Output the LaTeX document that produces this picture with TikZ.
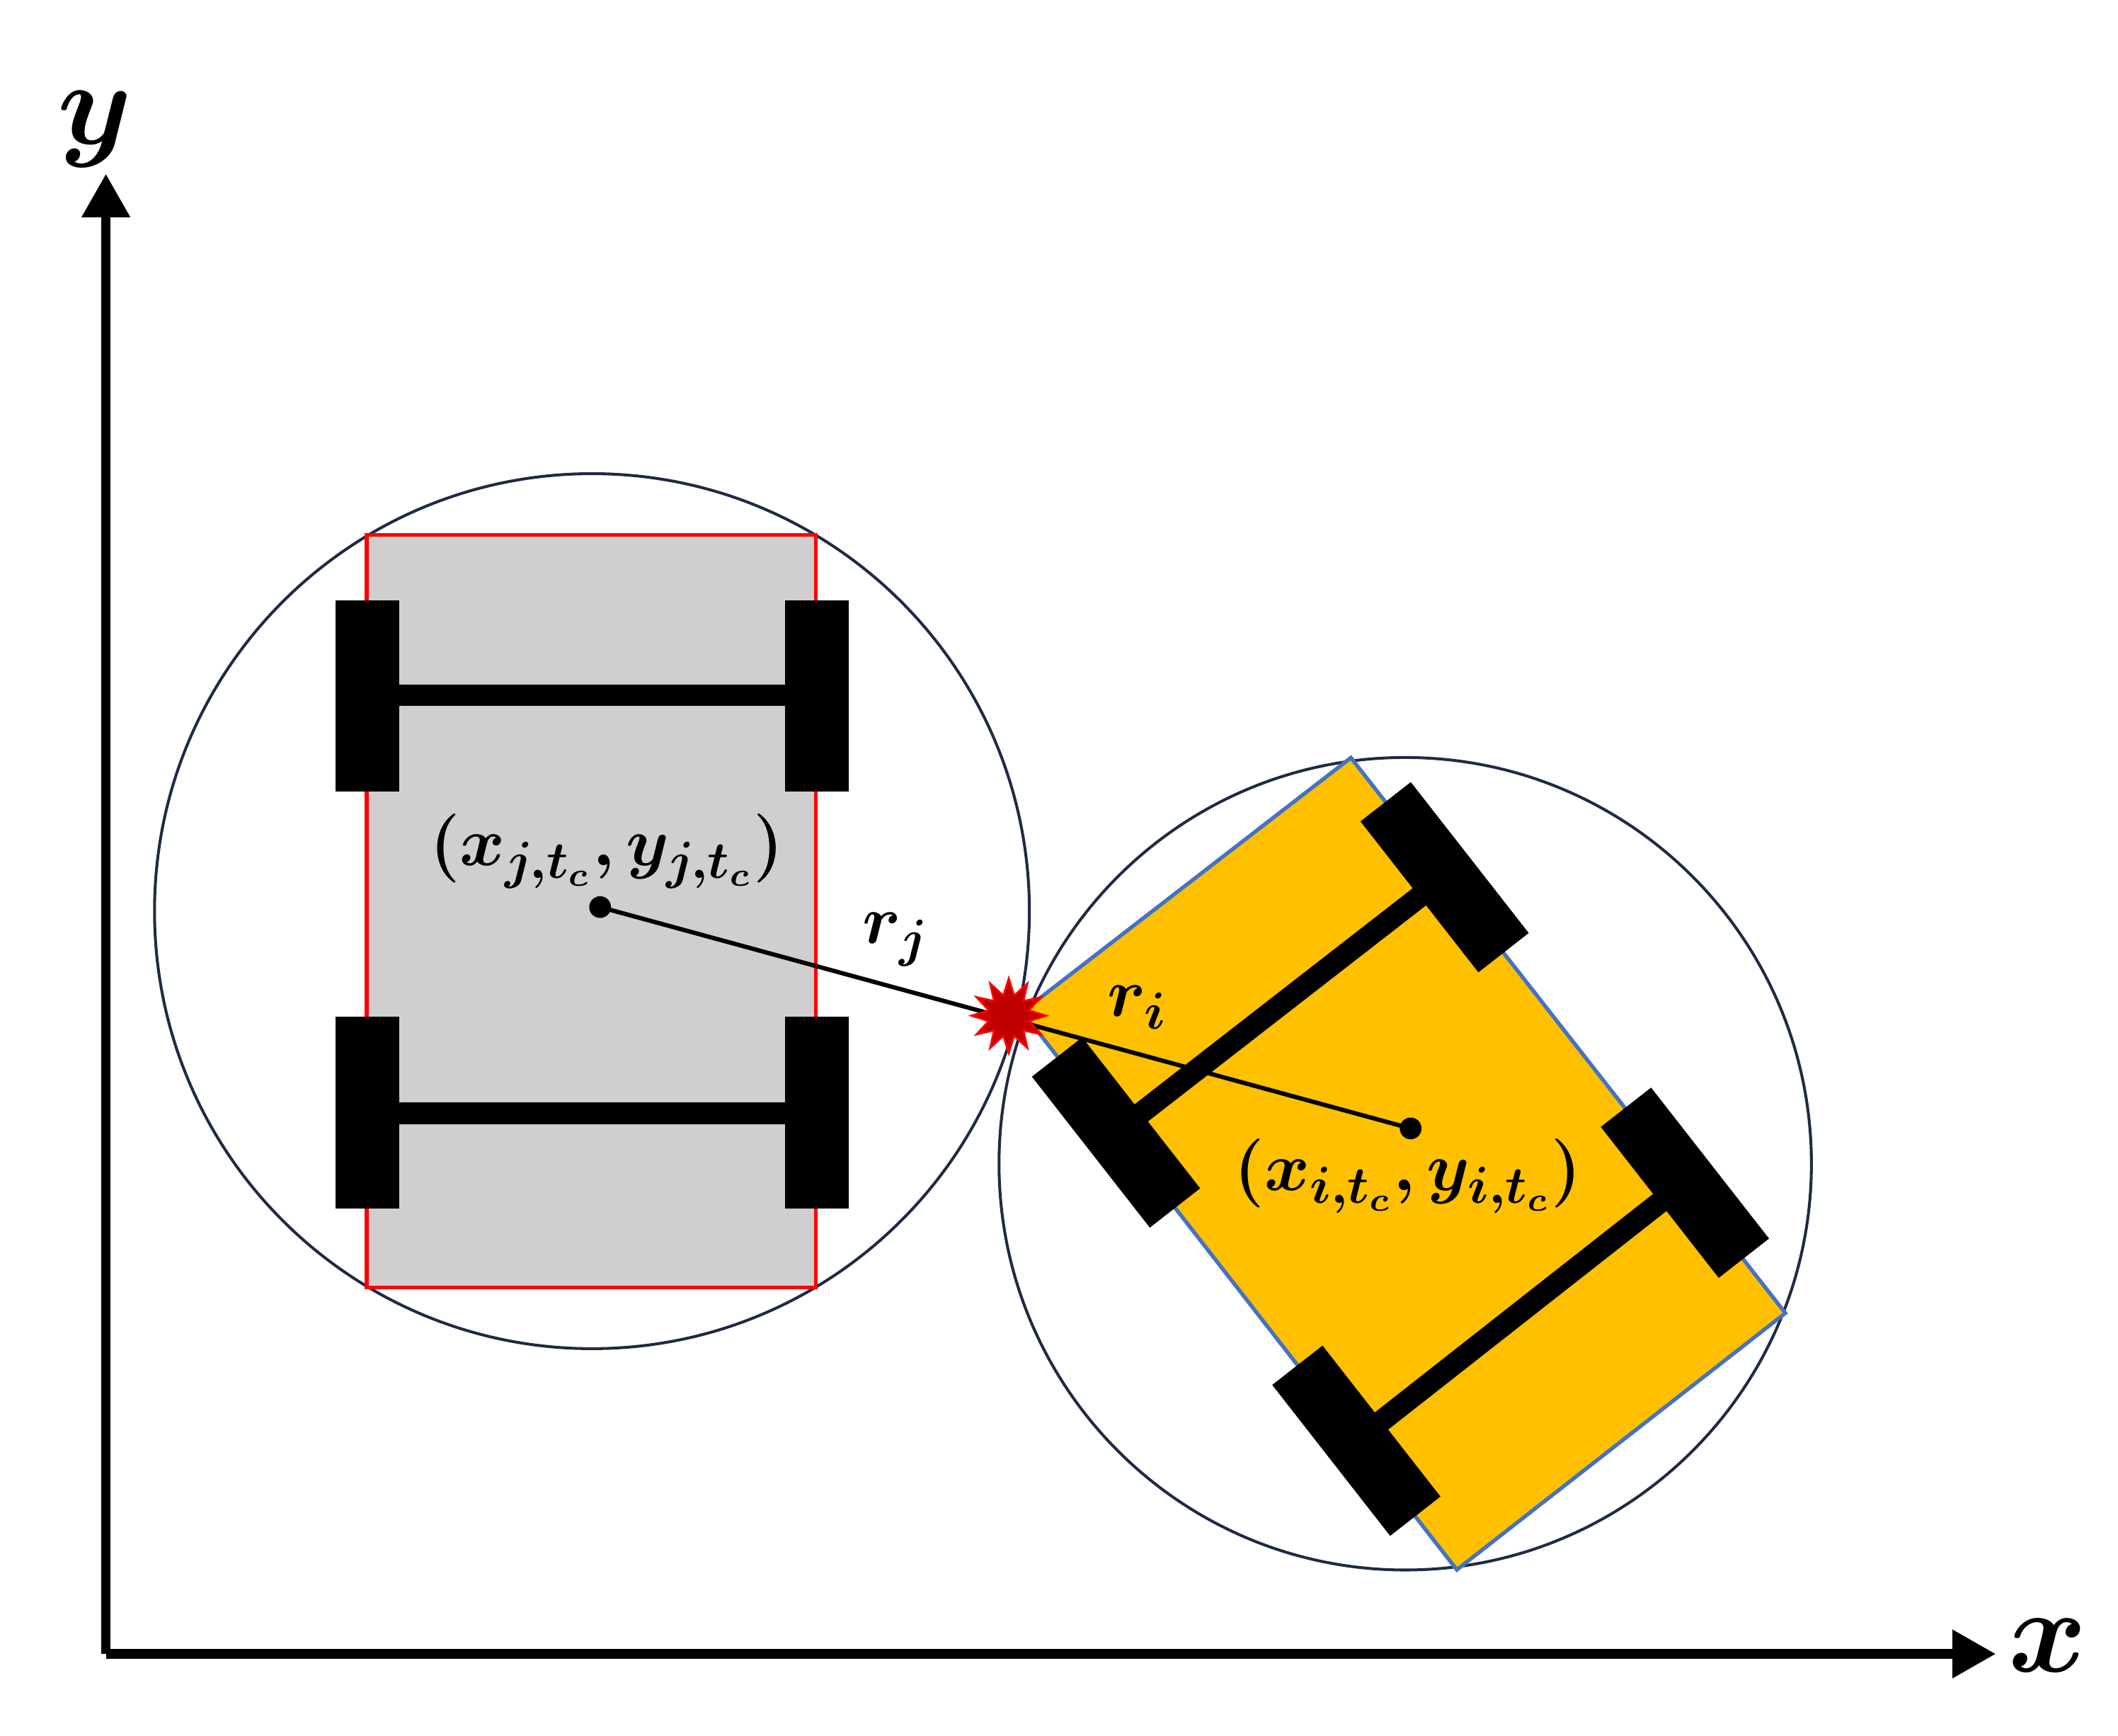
\documentclass[tikz,border=0pt]{standalone}
\usepackage{bm}
\usetikzlibrary{shapes.geometric,arrows.meta}
\begin{document}
\begin{tikzpicture}[x=0.01cm,y=-0.01cm,
  wheel/.style={fill=black,draw=none,minimum width=0.47cm,minimum height=1.41cm,inner sep=0},
  axle/.style={line width=0.16cm},
  circ/.style={draw={rgb,255:red,31;green,42;blue,68},line width=0.6pt},
  lbl/.style={font=\fontsize{15}{18}\selectfont},
  axlbl/.style={font=\fontsize{36}{40}\selectfont}]
\useasboundingbox (0,0) rectangle (1560,1278);
\definecolor{carg}{RGB}{208,206,206}
\definecolor{caro}{RGB}{255,192,0}
\definecolor{carb}{RGB}{68,114,196}
% axes
\coordinate (O) at (78,1218);
\coordinate (Y) at (78,128);
\coordinate (X) at (1470,1218);
\draw[line width=0.07cm,-{Triangle[length=0.32cm,width=0.34cm]}] (O) -- (Y);
\draw[line width=0.07cm,-{Triangle[length=0.32cm,width=0.34cm]}] (O) -- (X);
\node[axlbl] (ylab) at (70,95) {$\bm{y}$};
\node[axlbl] (xlab) at (1508,1212) {$\bm{x}$};
% left car
\node[circ,circle,minimum size=6.44cm,inner sep=0] (cj) at (436,671) {};
\draw[red,fill=carg,line width=0.8pt] (270,394) rectangle (601,948);
\draw[axle] (294,512) -- (578,512);
\draw[axle] (294,820) -- (578,820);
\node[wheel] (w1) at (270.5,512.5) {};
\node[wheel] (w2) at (601.5,512.5) {};
\node[wheel] (w3) at (270.5,819.5) {};
\node[wheel] (w4) at (601.5,819.5) {};
% right car
\node[circ,circle,minimum size=5.98cm,inner sep=0] (ci) at (1035,857) {};
\draw[carb,fill=caro,line width=0.8pt] (995,558) -- (1315,967) -- (1073,1156) -- (753,745) -- cycle;
\draw[axle] (1064,646) -- (822,834);
\draw[axle] (1241,871) -- (999,1061);
\node[wheel,rotate=38] (w5) at (1064,646) {};
\node[wheel,rotate=38] (w6) at (1241,871) {};
\node[wheel,rotate=38] (w7) at (822,834) {};
\node[wheel,rotate=38] (w8) at (999,1061) {};
% centres and radius line
\node[circle,fill=black,inner sep=0,minimum size=0.16cm] (pj) at (442,668) {};
\node[circle,fill=black,inner sep=0,minimum size=0.16cm] (pi) at (1039,831) {};
\draw[line width=0.9pt] (pj.center) -- (pi.center);
\node[star,star points=12,star point ratio=1.8,fill={rgb,255:red,192;green,0;blue,0},draw=red,minimum size=0.55cm,inner sep=0] (hit) at (743,748) {};
\node[lbl] (lj) at (447,627) {$\bm{(x_{j,t_c},y_{j,t_c})}$};
\node[lbl] (li) at (1037,866) {$\bm{(x_{i,t_c},y_{i,t_c})}$};
\node[lbl] (rj) at (660,692) {$\bm{r_j}$};
\node[lbl] (ri) at (838,742) {$\bm{r_i}$};
\end{tikzpicture}
\end{document}
